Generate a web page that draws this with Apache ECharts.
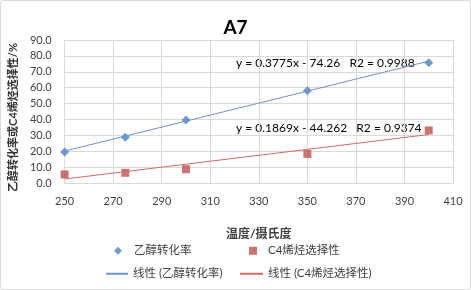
<!DOCTYPE html>
<html>
<head>
<meta charset="utf-8">
<script src="https://cdn.jsdelivr.net/npm/echarts@6/dist/echarts.min.js"></script>
<style>
  html, body { margin: 0; padding: 0; background: #fff; }
  #chart { width: 471px; height: 290px; }
</style>
</head>
<body>
<div id="chart"></div>
<script>
// 温度 (x) 与两组测量值
const temps = [250, 275, 300, 350, 400];
const ethanolConv = [19.5, 28.8, 39.6, 58.1, 75.7];
const c4Select = [5.4, 6.4, 8.7, 18.3, 33.1];
// 趋势线两端 (Excel 线性拟合)
const trendX = [250, 400];
const ethanolTrend = [20.1, 76.7];
const c4Trend = [2.5, 30.5];
const eqEthanol = "y = 0.3775x - 74.26   R2 = 0.9988";
const eqC4 = "y = 0.1869x - 44.262   R2 = 0.9374";

const font = "Lato, 'Noto Sans CJK SC', sans-serif";
const blue = "#4F81BD";
const red = "#C0504D";

const chart = echarts.init(document.getElementById("chart"));

const legendBase = {
  orient: "horizontal",
  itemGap: 0,
  textStyle: { fontFamily: font, fontSize: 11.5, color: "#404040" },
  selectedMode: false,
};

const option = {
  animation: false,
  title: {
    text: "A7",
    left: "center",
    top: 13,
    textStyle: { fontFamily: font, fontSize: 19, fontWeight: "bold", color: "#000" },
  },
  grid: { left: 57, right: 18, top: 40, bottom: 107, containLabel: false },
  legend: [
    Object.assign({}, legendBase, {
      data: ["乙醇转化率"], left: 109, top: 240, icon: "diamond", itemWidth: 8, itemHeight: 8,
      textStyle: Object.assign({}, legendBase.textStyle, { padding: [0, 0, 0, 7] }),
    }),
    Object.assign({}, legendBase, {
      data: ["C4烯烃选择性"], left: 244, top: 240, icon: "rect", itemWidth: 8, itemHeight: 8,
      textStyle: Object.assign({}, legendBase.textStyle, { padding: [0, 0, 0, 6] }),
    }),
    Object.assign({}, legendBase, { data: ["线性 (乙醇转化率)"], left: 101, top: 263, icon: "rect", itemWidth: 22, itemHeight: 2 }),
    Object.assign({}, legendBase, { data: ["线性 (C4烯烃选择性)"], left: 235, top: 263, icon: "rect", itemWidth: 23, itemHeight: 2 }),
  ],
  xAxis: {
    type: "value",
    min: 250,
    max: 410,
    interval: 20,
    name: "温度/摄氏度",
    nameLocation: "middle",
    nameGap: 45,
    nameTextStyle: { fontFamily: font, fontSize: 12, fontWeight: "bold", color: "#404040" },
    axisLine: { lineStyle: { color: "#D9D9D9" } },
    axisTick: { show: false },
    axisLabel: { fontFamily: font, fontSize: 11, color: "#404040", margin: 13 },
    splitLine: { show: true, lineStyle: { color: "#D9D9D9" } },
  },
  yAxis: {
    type: "value",
    min: 0,
    max: 90,
    interval: 10,
    name: "乙醇转化率或C4烯烃选择性/%",
    nameLocation: "middle",
    nameRotate: 90,
    nameGap: 44,
    nameTextStyle: {
      fontFamily: font, fontSize: 11, fontWeight: "bold", color: "#333",
      padding: [0, 12, 0, 0],
    },
    axisLine: { show: false },
    axisTick: { show: false },
    axisLabel: {
      fontFamily: font, fontSize: 11, color: "#404040", margin: 13,
      formatter: (v) => v.toFixed(1),
    },
    splitLine: { show: true, lineStyle: { color: "#D9D9D9" } },
  },
  series: [
    {
      name: "线性 (乙醇转化率)",
      type: "line",
      data: trendX.map((x, i) => [x, ethanolTrend[i]]),
      symbol: "none",
      lineStyle: { color: "#6A93CC", width: 1 },
      itemStyle: { color: "#6A93CC" },
      silent: true,
    },
    {
      name: "线性 (C4烯烃选择性)",
      type: "line",
      data: trendX.map((x, i) => [x, c4Trend[i]]),
      symbol: "none",
      lineStyle: { color: "#CD6D6A", width: 1 },
      itemStyle: { color: "#CD6D6A" },
      silent: true,
    },
    {
      name: "乙醇转化率",
      type: "scatter",
      data: temps.map((x, i) => [x, ethanolConv[i]]),
      symbol: "diamond",
      symbolSize: 9,
      itemStyle: { color: blue },
    },
    {
      name: "C4烯烃选择性",
      type: "scatter",
      data: temps.map((x, i) => [x, c4Select[i]]),
      symbol: "rect",
      symbolSize: 8,
      itemStyle: { color: red },
    },
  ],
  graphic: [
    {
      type: "rect",
      shape: { x: 0.5, y: 0.5, width: 470, height: 289, r: 2 },
      style: { fill: "none", stroke: "#D9D9D9", lineWidth: 1 },
      silent: true,
    },
    {
      type: "text",
      left: 236,
      top: 57,
      style: { text: eqEthanol, fontFamily: font, fontSize: 12, fill: "#000" },
    },
    {
      type: "text",
      left: 236,
      top: 122,
      style: { text: eqC4, fontFamily: font, fontSize: 12, fill: "#000" },
    },
  ],
};

chart.setOption(option);
</script>
</body>
</html>
